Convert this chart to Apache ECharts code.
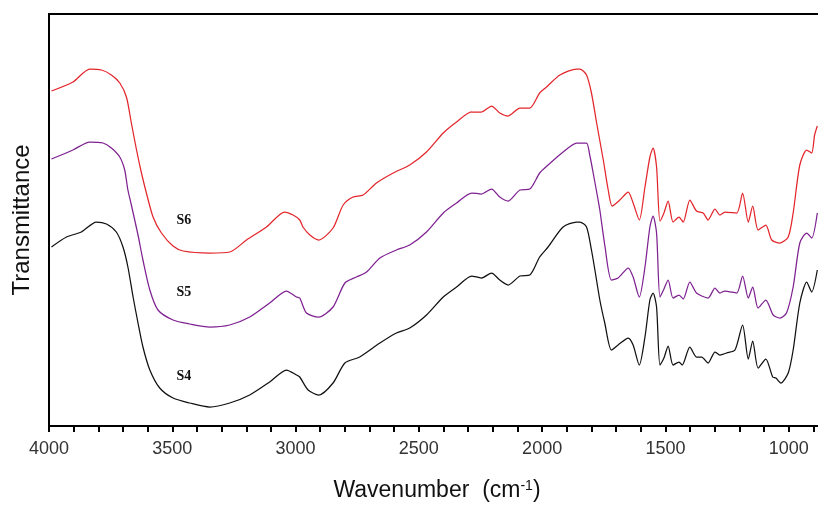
<!DOCTYPE html>
<html>
<head>
<meta charset="utf-8">
<script src="https://cdn.jsdelivr.net/npm/echarts@6/dist/echarts.min.js"></script>
<style>html,body{margin:0;padding:0;background:#fff}#c{width:818px;height:505px}</style>
</head>
<body>
<div id="c"></div>
<script>
// Wavenumber (cm-1) and transmittance (arbitrary, offset) values
const wnS6 = [3990,3903,3835,3787,3747,3713,3686,3666,3645,3625,3605,3578,3544,3497,3456,3348,3267,3199,3118,3044,3010,2983,2970,2942,2906,2848,2807,2767,2726,2672,2604,2537,2469,2401,2347,2286,2246,2205,2172,2138,2090,2050,2010,1982,1928,1860,1847,1820,1800,1779,1752,1732,1716,1685,1651,1631,1606,1583,1563,1550,1536,1522,1506,1489,1469,1445,1428,1401,1374,1347,1327,1299,1279,1259,1211,1187,1164,1146,1124,1093,1069,1036,1002,982,955,927,907,895,884];
const tS6  = [335,344,357,356,351,343,329,303,276,253,233,209,193,180,175,173,174,186,199,214,211,206,199,191,186,198,221,229,231,243,253,261,274,293,304,314,314,320,313,310,318,318,333,339,351,357,357,351,333,303,266,236,220,226,234,223,206,239,269,278,259,205,213,225,204,209,204,226,215,213,206,217,211,214,213,233,204,220,196,201,186,183,189,213,261,276,273,291,300];

const wnS5 = [3990,3903,3835,3781,3747,3713,3693,3680,3666,3639,3619,3591,3558,3497,3429,3348,3267,3186,3105,3037,2996,2983,2956,2906,2848,2800,2753,2712,2658,2591,2537,2469,2401,2347,2286,2246,2205,2172,2138,2090,2050,2010,1976,1915,1860,1847,1820,1807,1793,1773,1766,1746,1719,1692,1651,1631,1606,1583,1563,1550,1536,1522,1506,1489,1469,1445,1428,1401,1374,1327,1299,1279,1259,1211,1187,1164,1146,1124,1093,1063,1036,1009,982,955,927,907,884];
const tS5  = [267,276,284,283,278,269,256,236,221,191,166,136,116,106,102,99,101,109,123,135,129,128,113,109,119,143,149,154,168,176,181,194,213,223,233,232,237,229,225,236,237,253,261,274,283,283,283,271,253,226,216,181,146,148,158,149,129,159,199,210,193,129,137,146,128,131,127,144,133,128,138,133,135,133,150,128,139,118,126,111,108,113,139,183,193,188,213];

const wnS4 = [3990,3929,3869,3808,3767,3727,3700,3680,3659,3639,3619,3591,3551,3497,3429,3348,3267,3186,3105,3037,2996,2983,2949,2906,2848,2800,2740,2658,2591,2537,2469,2401,2347,2286,2246,2205,2172,2138,2090,2050,2010,1976,1915,1860,1847,1820,1800,1786,1766,1746,1719,1692,1651,1631,1606,1583,1563,1550,1536,1522,1506,1489,1469,1445,1432,1401,1374,1353,1327,1299,1279,1252,1218,1187,1164,1146,1124,1093,1065,1052,1032,1002,982,955,927,907,884];
const tS4  = [179,189,194,204,202,194,179,159,129,103,79,56,38,28,23,19,23,31,44,56,51,49,36,31,43,63,69,83,93,98,111,129,139,150,148,153,146,141,150,151,169,179,199,204,204,199,176,156,126,103,76,81,88,81,61,89,126,133,119,61,68,80,61,64,61,79,69,69,63,74,71,73,76,101,67,85,58,67,49,48,43,53,76,123,144,134,156];

const seriesNames = ['S6','S5','S4'];
const labelWn = [3453,3453,3453];
const labelT  = [206,134,50];
const xTickLabels = [4000,3500,3000,2500,2000,1500,1000];
const colors = ['#e3262b','#7e2191','#111111'];

const pairs = (xs, ys) => xs.map((x, i) => [x, ys[i]]);
const datasets = [pairs(wnS6, tS6), pairs(wnS5, tS5), pairs(wnS4, tS4)];

const chart = echarts.init(document.getElementById('c'), null, {renderer: 'canvas'});
chart.setOption({
  animation: false,
  backgroundColor: '#fff',
  grid: {left: 49, top: 14, bottom: 79, right: -94, outerBoundsMode: 'none', containLabel: false,
    show: true, borderColor: '#000', borderWidth: 2, backgroundColor: 'transparent'},
  xAxis: {
    type: 'value', inverse: true, min: 500, max: 4000, interval: 500,
    axisLine: {show: true, onZero: false, lineStyle: {color: '#000', width: 2}},
    axisTick: {show: true, length: 6, lineStyle: {color: '#000', width: 2}},
    minorTick: {show: true, splitNumber: 5, length: 6, lineStyle: {color: '#000', width: 2}},
    splitLine: {show: false},
    axisLabel: {
      color: '#333', fontSize: 18, fontFamily: 'Liberation Sans, Arial, sans-serif', margin: 14,
      formatter: v => xTickLabels.indexOf(v) >= 0 ? String(v) : ''
    }
  },
  yAxis: {
    type: 'value', min: 0, max: 412,
    axisLine: {show: true, lineStyle: {color: '#000', width: 2}},
    axisTick: {show: false}, axisLabel: {show: false}, splitLine: {show: false}
  },
  series: datasets.map((d, i) => ({
    name: seriesNames[i], type: 'line', data: d, showSymbol: false, symbol: 'none', smooth: 0.25,
    lineStyle: {color: colors[i], width: 1.25}, itemStyle: {color: colors[i]},
    markPoint: {
      symbol: 'circle', symbolSize: 0,
      data: [{coord: [labelWn[i], labelT[i]], value: seriesNames[i]}],
      label: {show: true, position: 'inside', formatter: seriesNames[i], color: '#111',
        fontFamily: 'Liberation Serif, Times New Roman, serif', fontSize: 14, fontWeight: 'bold'}
    }
  })),
  graphic: [
    {type: 'text', x: 437, y: 491, style: {
      text: 'Wavenumber  (cm{sup|-1})', align: 'center', verticalAlign: 'middle',
      fontSize: 23, fontFamily: 'Liberation Sans, Arial, sans-serif', fill: '#111',
      rich: {sup: {fontSize: 14, verticalAlign: 'top', fontFamily: 'Liberation Sans, Arial, sans-serif', fill: '#111'}}
    }},
    {type: 'text', x: 22, y: 220, rotation: Math.PI / 2, style: {
      text: 'Transmittance', align: 'center', verticalAlign: 'middle',
      fontSize: 24, fontFamily: 'Liberation Sans, Arial, sans-serif', fill: '#111'
    }}
  ]
});
</script>
</body>
</html>
